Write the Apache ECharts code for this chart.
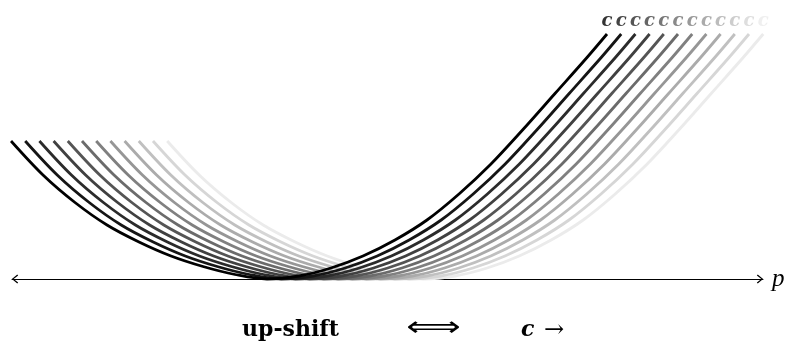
<!DOCTYPE html>
<html>
<head>
<meta charset="utf-8">
<script src="https://cdn.jsdelivr.net/npm/echarts@6/dist/echarts.min.js"></script>
<style>html,body{margin:0;padding:0;background:#fff;}#c{width:788px;height:343px;}</style>
</head>
<body>
<div id="c"></div>
<script>
// base curve (black): p position and height above the axis
const baseP = [11, 43, 75, 107, 139, 171, 203, 235, 267, 299, 331, 363, 395, 427, 459, 491, 523, 555, 587, 607];
const baseH = [138, 104, 76.5, 54, 37, 23, 12.5, 4.5, 0, 3, 11, 23, 39, 59, 85, 115, 149.5, 185.5, 221.5, 245];
// horizontal shift of each of the 12 curves
const shifts = [0, 14.2, 28.4, 42.6, 56.8, 71, 85.2, 99.4, 113.6, 127.8, 142, 156.2];
const colors = ['#000000', '#151515', '#2b2b2b', '#404040', '#555555', '#6b6b6b',
                '#808080', '#969696', '#ababab', '#c0c0c0', '#d6d6d6', '#ebebeb'];
const curveLabel = 'c';
const axisName = 'p';

const chart = echarts.init(document.getElementById('c'), null, {renderer: 'canvas'});

const series = [];
// draw lightest first so that darker curves lie on top
for (let k = shifts.length - 1; k >= 0; k--) {
  series.push({
    type: 'line',
    data: baseP.map((p, i) => [p + shifts[k], baseH[i]]),
    smooth: 0.33,
    showSymbol: false,
    clip: false,
    silent: true,
    lineStyle: {color: colors[k], width: 2.8},
    z: 2
  });
}
series.push({
  type: 'scatter',
  symbolSize: 0,
  silent: true,
  clip: false,
  data: shifts.map((s, k) => ({
    value: [baseP[baseP.length - 1] + s, baseH[baseH.length - 1]],
    label: {color: colors[k]}
  })),
  label: {
    show: true,
    formatter: curveLabel,
    position: 'top',
    distance: 4,
    fontFamily: 'DejaVu Serif',
    fontStyle: 'italic',
    fontWeight: 'bold',
    fontSize: 18
  },
  z: 3
});

const chevron = 'path://M5,0 L10,6 L9,7 L5,2 L1,7 L0,6 Z';

chart.setOption({
  animation: false,
  backgroundColor: '#ffffff',
  grid: {left: 12, right: 25, top: 29, bottom: 64},
  xAxis: {
    type: 'value',
    min: 12,
    max: 763,
    name: axisName,
    nameLocation: 'end',
    nameGap: 9,
    nameTextStyle: {fontFamily: 'Liberation Serif', fontStyle: 'italic', fontSize: 25, color: '#000', verticalAlign: 'middle', padding: [0, 0, 4, 0]},
    axisLine: {
      show: true,
      onZero: false,
      symbol: [chevron, chevron],
      symbolSize: [9, 6.3],
      symbolOffset: [3, -3],
      lineStyle: {color: '#000', width: 1}
    },
    axisTick: {show: false},
    axisLabel: {show: false},
    splitLine: {show: false}
  },
  yAxis: {
    type: 'value',
    min: 0,
    max: 250,
    show: false
  },
  series: series,
  graphic: [
    {type: 'text', x: 242, y: 330, style: {text: 'up-shift', font: 'bold 22px "DejaVu Serif"', fill: '#000', verticalAlign: 'middle'}},
    {type: 'text', x: 406, y: 329, scaleX: 1.36, style: {text: '⟺', font: '28px "DejaVu Sans"', fill: '#000', verticalAlign: 'middle'}},
    {type: 'text', x: 521, y: 330, style: {text: 'c', font: 'italic bold 22px "DejaVu Serif"', fill: '#000', verticalAlign: 'middle'}},
    {type: 'text', x: 544, y: 331, style: {text: '→', font: '24px "DejaVu Serif"', fill: '#000', verticalAlign: 'middle'}}
  ]
});
</script>
</body>
</html>
